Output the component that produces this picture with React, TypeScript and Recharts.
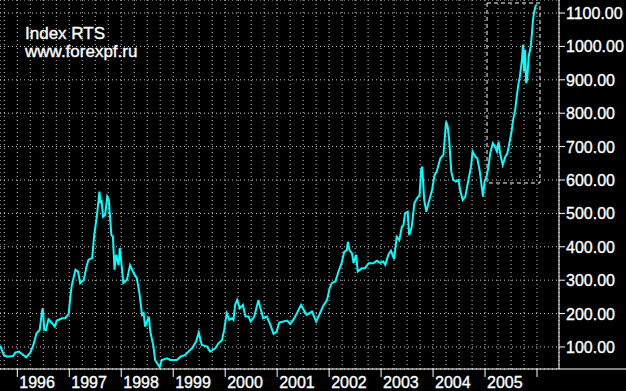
import React from 'react';
import { LineChart, Line, XAxis, YAxis, CartesianGrid, ReferenceArea } from 'recharts';

const dates = [
  1995.67, 1995.74, 1995.80, 1995.92, 1995.96, 1996.03, 1996.09, 1996.17, 1996.25, 1996.31,
  1996.37, 1996.43, 1996.48, 1996.49, 1996.52, 1996.55, 1996.60, 1996.67, 1996.72, 1996.76,
  1996.86, 1996.92, 1996.99, 1997.02, 1997.05, 1997.12, 1997.17, 1997.21, 1997.28, 1997.33,
  1997.37, 1997.44, 1997.48, 1997.52, 1997.54, 1997.58, 1997.60, 1997.62, 1997.65, 1997.69,
  1997.73, 1997.76, 1997.81, 1997.84, 1997.87, 1997.90, 1997.95, 1997.97, 1998.01, 1998.04,
  1998.11, 1998.17, 1998.24, 1998.30, 1998.35, 1998.40, 1998.43, 1998.46, 1998.53, 1998.56,
  1998.62, 1998.65, 1998.74, 1998.78, 1998.88, 1998.94, 1999.07, 1999.14, 1999.23, 1999.29,
  1999.36, 1999.44, 1999.49, 1999.55, 1999.65, 1999.71, 1999.81, 1999.87, 1999.94, 1999.98,
  2000.03, 2000.08, 2000.13, 2000.16, 2000.19, 2000.23, 2000.28, 2000.34, 2000.39, 2000.45,
  2000.49, 2000.56, 2000.64, 2000.67, 2000.73, 2000.80, 2000.87, 2000.93, 2000.99, 2001.04,
  2001.12, 2001.19, 2001.25, 2001.31, 2001.38, 2001.46, 2001.51, 2001.57, 2001.67, 2001.75,
  2001.81, 2001.88, 2001.96, 2002.01, 2002.05, 2002.12, 2002.18, 2002.24, 2002.29, 2002.34,
  2002.36, 2002.39, 2002.44, 2002.47, 2002.52, 2002.55, 2002.63, 2002.69, 2002.76, 2002.85,
  2002.92, 2002.98, 2003.04, 2003.08, 2003.14, 2003.19, 2003.25, 2003.30, 2003.35, 2003.40,
  2003.43, 2003.46, 2003.51, 2003.54, 2003.59, 2003.64, 2003.69, 2003.74, 2003.77, 2003.79,
  2003.83, 2003.87, 2003.91, 2003.98, 2004.03, 2004.07, 2004.14, 2004.20, 2004.25, 2004.28,
  2004.31, 2004.35, 2004.39, 2004.44, 2004.49, 2004.52, 2004.57, 2004.62, 2004.68, 2004.73,
  2004.76, 2004.81, 2004.85, 2004.90, 2004.96, 2004.99, 2005.03, 2005.06, 2005.10, 2005.15,
  2005.19, 2005.23, 2005.26, 2005.29, 2005.34, 2005.39, 2005.43, 2005.48, 2005.51, 2005.54,
  2005.58, 2005.61, 2005.64, 2005.67, 2005.71, 2005.73, 2005.75, 2005.77, 2005.79, 2005.81,
  2005.84, 2005.88, 2005.90, 2005.92, 2005.94, 2005.98,
];

const rts = [
  104, 76, 71, 73, 83, 86, 79, 69, 83, 106,
  141, 151, 211, 216, 151, 151, 183, 171, 161, 179,
  186, 186, 199, 251, 286, 331, 325, 291, 301, 340,
  361, 366, 435, 480, 505, 565, 530, 540, 490, 495,
  550, 540, 435, 430, 331, 376, 345, 396, 340, 291,
  301, 345, 321, 306, 261, 196, 201, 161, 191, 146,
  101, 61, 39, 61, 66, 61, 61, 71, 76, 86,
  96, 116, 143, 106, 101, 86, 96, 111, 121, 151,
  201, 181, 186, 181, 226, 241, 216, 226, 191, 191,
  176, 191, 241, 221, 186, 191, 166, 139, 146, 173,
  176, 179, 169, 181, 201, 226, 211, 196, 206, 176,
  196, 221, 241, 276, 291, 296, 326, 351, 385, 390,
  415, 390, 380, 351, 376, 326, 336, 336, 351, 351,
  358, 352, 356, 346, 376, 388, 363, 430, 420, 460,
  465, 500, 505, 435, 460, 530, 545, 555, 630, 640,
  540, 505, 530, 570, 615, 625, 665, 675, 775, 760,
  720, 625, 600, 595, 600, 570, 540, 550, 600, 640,
  685, 670, 665, 625, 550, 595, 610, 635, 680, 710,
  700, 685, 715, 680, 645, 670, 680, 720, 745, 780,
  810, 850, 885, 910, 960, 1005, 925, 990, 890, 900,
  970, 1000, 1035, 1075, 1100, 1125,
];

const yearTicks = [1996, 1997, 1998, 1999, 2000, 2001, 2002, 2003, 2004, 2005, 2006];
const yTicks = [100, 200, 300, 400, 500, 600, 700, 800, 900, 1000, 1100];
const xDomain = [1995.667, 2006.423];
const yDomain = [34, 1139];
const boxX = [2005.038, 2006.057];
const boxY = [591, 1130];
const titleLines = ['Index RTS', 'www.forexpf.ru'];

const data = dates.map((t, i) => ({ t, v: rts[i] }));
const quarterTicks: number[] = [];
[1995, ...yearTicks].forEach((y) => {
  [0, 0.25, 0.5, 0.75].forEach((q) => {
    const v = y + q;
    if (v > xDomain[0] && v <= 2006) quarterTicks.push(v);
  });
});

const FONT = '"Liberation Sans", Arial, sans-serif';

function XTick(props: any) {
  const { x, y, payload } = props;
  const v = payload.value;
  const isYear = Math.abs(v - Math.round(v)) < 1e-6;
  if (!isYear) return <g />;
  return (
    <g>
      <line x1={x} x2={x} y1={y} y2={y + 8} stroke="#fff" strokeWidth={1} />
      {v <= 2005 && (
        <text x={x + 2} y={y + 19} fill="#fff" stroke="#fff" strokeWidth={0.35} fontSize={16} fontFamily={FONT} textAnchor="start">
          {Math.round(v)}
        </text>
      )}
    </g>
  );
}

function YTick(props: any) {
  const { x, y, payload } = props;
  return (
    <g>
      <line x1={x} x2={x + 6} y1={y} y2={y} stroke="#fff" strokeWidth={1} />
      <text x={x + 7} y={y + 6} fill="#fff" stroke="#fff" strokeWidth={0.35} fontSize={16} fontFamily={FONT} textAnchor="start">
        {payload.value.toFixed(2)}
      </text>
    </g>
  );
}

export default function App() {
  return (
    <div style={{ position: 'fixed', left: 0, top: 0, width: 626, height: 391, background: '#000', overflow: 'hidden' }}>
      <LineChart width={626} height={391} data={data} margin={{ top: 0, right: 0, bottom: 0, left: 0 }}>
        <CartesianGrid stroke="#c8c8c8" strokeDasharray="1 3" />
        <XAxis
          type="number"
          dataKey="t"
          domain={xDomain}
          ticks={quarterTicks}
          interval={0}
          allowDataOverflow
          height={22}
          tickSize={0}
          tickMargin={0}
          tickLine={false}
          axisLine={{ stroke: '#fff' }}
          tick={<XTick />}
        />
        <YAxis
          orientation="right"
          type="number"
          domain={yDomain}
          ticks={yTicks}
          interval={0}
          allowDataOverflow
          width={67}
          tickSize={0}
          tickMargin={0}
          tickLine={false}
          axisLine={{ stroke: '#fff' }}
          tick={<YTick />}
        />
        <ReferenceArea
          x1={boxX[0]}
          x2={boxX[1]}
          y1={boxY[0]}
          y2={boxY[1]}
          fill="none"
          fillOpacity={0}
          stroke="#fff"
          strokeDasharray="4 3"
          ifOverflow="visible"
        />
        <Line
          type="linear"
          dataKey="v"
          stroke="#00ffff"
          strokeWidth={2}
          dot={false}
          activeDot={false}
          isAnimationActive={false}
        />
      </LineChart>
      <svg width={626} height={391} style={{ position: 'absolute', left: 0, top: 0, pointerEvents: 'none' }}>
        <line x1={559} x2={626} y1={369} y2={369} stroke="#fff" strokeWidth={1} />
        <text x={25} y={39} fill="#fff" stroke="#fff" strokeWidth={0.35} fontSize={17} fontFamily={FONT}>{titleLines[0]}</text>
        <text x={25} y={57} fill="#fff" stroke="#fff" strokeWidth={0.35} fontSize={17} fontFamily={FONT}>{titleLines[1]}</text>
      </svg>
    </div>
  );
}
